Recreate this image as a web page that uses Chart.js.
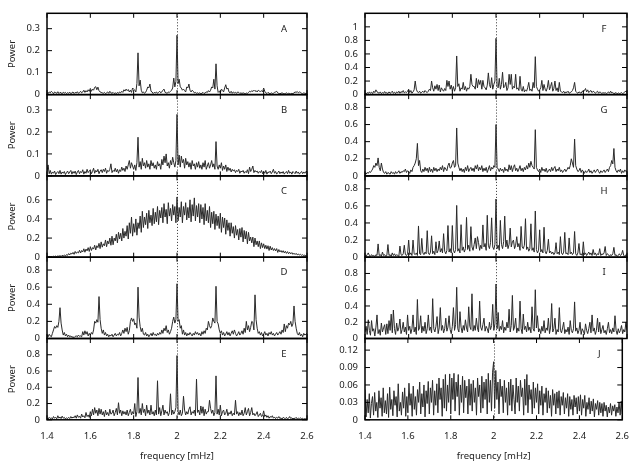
<!DOCTYPE html>
<html>
<head>
<meta charset="utf-8">
<script src="https://cdn.jsdelivr.net/npm/chart.js@4.4.1/dist/chart.umd.min.js"></script>
<style>
html,body{margin:0;padding:0;background:#fff;}
#wrap{position:relative;width:640px;height:468px;overflow:hidden;}
#wrap canvas{position:absolute;left:0;top:0;width:640px;height:468px;}
</style>
</head>
<body>
<div id="wrap"></div>
<script>
// ---------------- data ----------------
const xTickValues = [1.4, 1.6, 1.8, 2.0, 2.2, 2.4, 2.6];
const xTickLabels = ['1.4', '1.6', '1.8', '2', '2.2', '2.4', '2.6'];
const markFreq = 2.0;
const panelLetters = ['A','B','C','D','E','F','G','H','I','J'];
const yMax = [0.37, 0.37, 0.85, 0.95, 1.0, 1.2, 0.95, 0.95, 1.0, 0.14];
const yTicksA = [0, 0.1, 0.2, 0.3];
const yTicksB = [0, 0.1, 0.2, 0.3];
const yTicksC = [0, 0.2, 0.4, 0.6];
const yTicksD = [0, 0.2, 0.4, 0.6, 0.8];
const yTicksE = [0, 0.2, 0.4, 0.6, 0.8];
const yTicksF = [0, 0.2, 0.4, 0.6, 0.8, 1];
const yTicksG = [0, 0.2, 0.4, 0.6, 0.8];
const yTicksH = [0, 0.2, 0.4, 0.6, 0.8];
const yTicksI = [0, 0.2, 0.4, 0.6, 0.8];
const yTicksJ = [0, 0.03, 0.06, 0.09, 0.12];

// power spectra, sampled every 0.005 mHz from 1.4 to 2.6 (241 values)
const powerA = [
0.01,0.005,0.012,0.008,0.015,0.01,0.004,0.012,0.009,0.006,0.013,0.005,0.01,0.008,0.004,0.011,0.007,0.01,0.005,0.009,
0.006,0.011,0.004,0.008,0.012,0.005,0.01,0.007,0.013,0.006,0.009,0.015,0.008,0.012,0.02,0.01,0.018,0.012,0.022,0.015,
0.028,0.015,0.025,0.02,0.033,0.036,0.022,0.034,0.018,0.012,0.01,0.008,0.006,0.01,0.005,0.008,0.012,0.006,0.015,0.008,
0.006,0.01,0.005,0.008,0.004,0.01,0.006,0.012,0.008,0.015,0.01,0.022,0.016,0.025,0.018,0.023,0.012,0.02,0.01,0.03,
0.025,0.02,0.012,0.05,0.19,0.04,0.066,0.02,0.008,0.012,0.006,0.01,0.02,0.035,0.03,0.048,0.015,0.012,0.005,0.01,
0.008,0.012,0.006,0.01,0.015,0.008,0.012,0.02,0.025,0.01,0.008,0.006,0.012,0.01,0.015,0.02,0.03,0.075,0.035,0.06,
0.27,0.05,0.07,0.035,0.03,0.02,0.025,0.018,0.012,0.035,0.03,0.048,0.02,0.012,0.02,0.015,0.008,0.01,0.006,0.008,
0.005,0.008,0.004,0.006,0.01,0.005,0.008,0.012,0.01,0.018,0.012,0.02,0.035,0.03,0.07,0.025,0.14,0.04,0.01,0.015,
0.008,0.025,0.02,0.012,0.03,0.045,0.025,0.03,0.012,0.008,0.015,0.006,0.012,0.008,0.01,0.006,0.012,0.01,0.005,0.008,
0.005,0.008,0.006,0.004,0.007,0.005,0.01,0.015,0.012,0.018,0.014,0.02,0.015,0.018,0.012,0.02,0.016,0.014,0.018,0.012,
0.03,0.015,0.008,0.005,0.01,0.006,0.004,0.008,0.005,0.006,0.01,0.012,0.015,0.008,0.005,0.004,0.006,0.008,0.005,0.004,
0.005,0.008,0.004,0.006,0.005,0.003,0.006,0.004,0.008,0.012,0.01,0.014,0.008,0.012,0.01,0.006,0.004,0.008,0.006,0.005,
0.004];

const powerB = [
0.02,0.05,0.01,0.025,0.008,0.018,0.012,0.022,0.006,0.015,0.02,0.01,0.025,0.008,0.018,0.012,0.02,0.006,0.015,0.022,
0.01,0.018,0.025,0.008,0.02,0.012,0.022,0.006,0.018,0.025,0.01,0.02,0.015,0.028,0.008,0.02,0.012,0.03,0.015,0.022,
0.028,0.01,0.02,0.035,0.012,0.025,0.018,0.03,0.01,0.022,0.028,0.015,0.03,0.02,0.035,0.012,0.025,0.02,0.03,0.055,
0.015,0.025,0.02,0.035,0.018,0.03,0.012,0.028,0.02,0.04,0.025,0.035,0.02,0.045,0.03,0.05,0.07,0.035,0.06,0.045,
0.03,0.05,0.025,0.06,0.176,0.04,0.065,0.03,0.08,0.045,0.06,0.035,0.07,0.04,0.055,0.03,0.07,0.045,0.06,0.035,
0.05,0.03,0.065,0.045,0.055,0.03,0.075,0.05,0.09,0.06,0.1,0.045,0.06,0.035,0.07,0.05,0.085,0.06,0.04,0.07,
0.28,0.05,0.095,0.04,0.09,0.06,0.075,0.035,0.08,0.05,0.065,0.04,0.06,0.03,0.07,0.045,0.055,0.03,0.06,0.04,
0.065,0.035,0.05,0.03,0.06,0.04,0.07,0.03,0.045,0.06,0.035,0.05,0.07,0.04,0.055,0.03,0.156,0.045,0.03,0.05,
0.035,0.06,0.025,0.045,0.03,0.05,0.02,0.04,0.025,0.035,0.018,0.03,0.022,0.028,0.015,0.025,0.02,0.03,0.012,0.022,
0.018,0.025,0.012,0.02,0.015,0.028,0.01,0.04,0.02,0.03,0.045,0.015,0.025,0.018,0.022,0.012,0.02,0.015,0.025,0.01,
0.02,0.012,0.025,0.008,0.018,0.015,0.022,0.01,0.018,0.03,0.012,0.02,0.008,0.015,0.022,0.01,0.018,0.012,0.02,0.008,
0.015,0.02,0.01,0.025,0.012,0.018,0.008,0.02,0.015,0.01,0.022,0.012,0.018,0.008,0.015,0.02,0.01,0.018,0.012,0.02,
0.02];

const powerC = [
0.006,0.002,0.008,0.004,0.007,0.003,0.01,0.006,0.012,0.005,0.014,0.009,0.016,0.008,0.02,0.013,0.022,0.012,0.027,0.02,
0.038,0.024,0.042,0.033,0.05,0.03,0.06,0.04,0.055,0.045,0.072,0.044,0.07,0.055,0.088,0.052,0.085,0.066,0.1,0.06,
0.11,0.07,0.1,0.085,0.125,0.076,0.12,0.1,0.145,0.09,0.16,0.105,0.14,0.12,0.18,0.11,0.17,0.14,0.2,0.125,
0.22,0.13,0.2,0.17,0.24,0.15,0.26,0.19,0.25,0.17,0.3,0.2,0.27,0.22,0.33,0.19,0.36,0.25,0.42,0.22,
0.35,0.26,0.4,0.23,0.36,0.3,0.43,0.26,0.48,0.31,0.42,0.34,0.46,0.3,0.49,0.36,0.44,0.33,0.51,0.35,
0.47,0.37,0.53,0.34,0.49,0.41,0.52,0.36,0.56,0.42,0.5,0.35,0.57,0.43,0.51,0.38,0.55,0.44,0.53,0.36,
0.63,0.38,0.52,0.42,0.58,0.36,0.53,0.44,0.57,0.39,0.52,0.41,0.6,0.37,0.55,0.43,0.62,0.38,0.54,0.42,
0.56,0.36,0.55,0.4,0.52,0.34,0.56,0.38,0.49,0.36,0.53,0.31,0.47,0.35,0.48,0.29,0.45,0.33,0.43,0.3,
0.46,0.26,0.42,0.31,0.41,0.24,0.39,0.28,0.36,0.22,0.36,0.25,0.32,0.2,0.33,0.23,0.29,0.18,0.3,0.21,
0.31,0.16,0.28,0.19,0.27,0.14,0.26,0.17,0.21,0.15,0.21,0.11,0.2,0.13,0.17,0.11,0.17,0.09,0.15,0.1,
0.14,0.09,0.125,0.085,0.12,0.07,0.115,0.075,0.1,0.07,0.09,0.065,0.09,0.05,0.08,0.055,0.07,0.05,0.068,0.045,
0.062,0.04,0.058,0.036,0.052,0.035,0.048,0.03,0.042,0.028,0.04,0.024,0.034,0.022,0.03,0.02,0.026,0.017,0.022,0.014,
0.01];

const powerD = [
0.04,0.02,0.05,0.03,0.02,0.06,0.1,0.14,0.12,0.15,0.13,0.2,0.36,0.18,0.1,0.04,0.07,0.03,0.05,0.02,
0.04,0.02,0.03,0.015,0.02,0.01,0.025,0.03,0.02,0.04,0.025,0.03,0.02,0.08,0.04,0.09,0.05,0.08,0.03,0.06,
0.04,0.07,0.05,0.1,0.2,0.18,0.22,0.19,0.49,0.22,0.12,0.06,0.1,0.04,0.07,0.03,0.05,0.02,0.04,0.03,
0.05,0.02,0.04,0.06,0.03,0.05,0.04,0.07,0.03,0.06,0.1,0.06,0.12,0.08,0.13,0.05,0.09,0.2,0.24,0.2,
0.23,0.16,0.18,0.12,0.6,0.25,0.14,0.08,0.12,0.05,0.04,0.07,0.03,0.05,0.02,0.04,0.06,0.03,0.07,0.04,
0.05,0.03,0.06,0.04,0.07,0.05,0.1,0.06,0.12,0.09,0.15,0.07,0.1,0.05,0.08,0.12,0.2,0.25,0.18,0.22,
0.64,0.2,0.22,0.12,0.15,0.05,0.1,0.04,0.07,0.03,0.06,0.04,0.07,0.05,0.03,0.06,0.04,0.08,0.05,0.07,
0.04,0.06,0.03,0.08,0.05,0.09,0.06,0.12,0.1,0.2,0.15,0.12,0.15,0.24,0.2,0.18,0.61,0.2,0.17,0.1,
0.06,0.09,0.04,0.07,0.03,0.05,0.08,0.04,0.07,0.03,0.06,0.09,0.05,0.1,0.06,0.03,0.05,0.08,0.04,0.06,
0.09,0.05,0.12,0.07,0.2,0.1,0.15,0.08,0.13,0.2,0.19,0.1,0.51,0.22,0.12,0.06,0.08,0.04,0.07,0.03,
0.05,0.08,0.04,0.06,0.03,0.07,0.05,0.08,0.04,0.06,0.03,0.05,0.07,0.04,0.06,0.08,0.05,0.1,0.07,0.17,
0.08,0.15,0.12,0.18,0.16,0.2,0.14,0.17,0.38,0.2,0.12,0.06,0.04,0.07,0.03,0.05,0.02,0.06,0.04,0.05,
0.06];

const powerE = [
0.02,0.01,0.03,0.015,0.025,0.01,0.04,0.02,0.03,0.012,0.05,0.02,0.035,0.015,0.045,0.02,0.03,0.01,0.025,0.015,
0.03,0.015,0.04,0.02,0.035,0.025,0.05,0.02,0.06,0.03,0.045,0.02,0.07,0.035,0.05,0.025,0.09,0.04,0.06,0.03,
0.1,0.05,0.13,0.06,0.15,0.08,0.12,0.05,0.14,0.07,0.13,0.06,0.1,0.04,0.12,0.06,0.09,0.05,0.13,0.07,
0.08,0.12,0.05,0.09,0.14,0.06,0.21,0.08,0.12,0.05,0.11,0.07,0.1,0.06,0.12,0.05,0.09,0.13,0.06,0.1,
0.07,0.2,0.04,0.1,0.52,0.08,0.14,0.06,0.2,0.09,0.13,0.05,0.18,0.08,0.12,0.06,0.18,0.07,0.1,0.05,
0.12,0.06,0.48,0.07,0.15,0.05,0.11,0.18,0.06,0.12,0.08,0.1,0.05,0.09,0.32,0.06,0.12,0.07,0.1,0.15,
0.79,0.1,0.06,0.12,0.05,0.08,0.29,0.12,0.06,0.1,0.07,0.13,0.16,0.06,0.1,0.08,0.12,0.05,0.5,0.09,
0.12,0.06,0.17,0.08,0.16,0.05,0.13,0.07,0.1,0.1,0.24,0.14,0.08,0.12,0.05,0.09,0.54,0.07,0.13,0.06,
0.18,0.05,0.1,0.12,0.06,0.08,0.13,0.05,0.09,0.07,0.11,0.05,0.08,0.06,0.24,0.07,0.1,0.05,0.09,0.06,
0.12,0.05,0.08,0.15,0.06,0.1,0.14,0.05,0.09,0.15,0.06,0.08,0.05,0.07,0.1,0.04,0.06,0.08,0.04,0.05,
0.11,0.04,0.06,0.03,0.05,0.02,0.04,0.03,0.05,0.02,0.035,0.015,0.03,0.02,0.04,0.015,0.025,0.01,0.03,0.02,
0.015,0.03,0.01,0.02,0.04,0.015,0.025,0.01,0.02,0.015,0.03,0.01,0.02,0.012,0.025,0.01,0.018,0.008,0.015,0.01,
0.01];

const powerF = [
0.02,0.01,0.03,0.015,0.04,0.02,0.035,0.015,0.05,0.03,0.07,0.04,0.03,0.02,0.04,0.015,0.03,0.02,0.045,0.02,
0.03,0.015,0.04,0.02,0.03,0.05,0.02,0.035,0.015,0.04,0.025,0.05,0.02,0.045,0.03,0.06,0.025,0.04,0.03,0.05,
0.08,0.03,0.06,0.02,0.04,0.07,0.2,0.08,0.04,0.03,0.05,0.02,0.035,0.05,0.03,0.06,0.04,0.03,0.05,0.08,
0.06,0.2,0.1,0.05,0.13,0.08,0.15,0.06,0.14,0.04,0.1,0.07,0.05,0.09,0.06,0.21,0.12,0.2,0.08,0.14,
0.06,0.12,0.05,0.1,0.57,0.12,0.16,0.05,0.1,0.08,0.18,0.07,0.12,0.05,0.1,0.08,0.12,0.3,0.15,0.12,
0.12,0.08,0.24,0.1,0.22,0.15,0.21,0.08,0.21,0.12,0.1,0.07,0.14,0.32,0.15,0.1,0.25,0.08,0.15,0.2,
0.83,0.12,0.1,0.24,0.08,0.15,0.33,0.1,0.12,0.18,0.06,0.1,0.3,0.15,0.3,0.08,0.12,0.1,0.3,0.08,
0.1,0.06,0.27,0.08,0.05,0.12,0.04,0.07,0.05,0.1,0.18,0.06,0.08,0.05,0.18,0.1,0.56,0.12,0.08,0.05,
0.07,0.1,0.21,0.06,0.15,0.08,0.05,0.1,0.21,0.07,0.12,0.18,0.05,0.09,0.2,0.06,0.1,0.04,0.18,0.05,
0.04,0.03,0.05,0.02,0.04,0.03,0.05,0.02,0.03,0.04,0.06,0.1,0.18,0.05,0.03,0.02,0.04,0.03,0.02,0.05,
0.04,0.06,0.09,0.04,0.07,0.03,0.05,0.06,0.03,0.05,0.04,0.02,0.035,0.05,0.02,0.04,0.03,0.015,0.03,0.02,
0.03,0.015,0.025,0.04,0.02,0.05,0.025,0.03,0.015,0.02,0.03,0.01,0.025,0.015,0.02,0.03,0.015,0.025,0.04,0.05,
0.03];

const powerG = [
0.03,0.02,0.04,0.03,0.05,0.04,0.06,0.08,0.12,0.1,0.15,0.12,0.21,0.1,0.06,0.15,0.08,0.04,0.03,0.05,
0.02,0.04,0.03,0.02,0.05,0.03,0.04,0.02,0.05,0.03,0.04,0.06,0.03,0.05,0.04,0.06,0.05,0.08,0.04,0.06,
0.05,0.03,0.07,0.05,0.1,0.12,0.15,0.2,0.38,0.12,0.18,0.06,0.04,0.08,0.05,0.1,0.06,0.09,0.04,0.1,
0.05,0.08,0.04,0.1,0.06,0.09,0.05,0.08,0.06,0.1,0.07,0.12,0.05,0.1,0.08,0.06,0.12,0.15,0.09,0.1,
0.15,0.18,0.1,0.12,0.56,0.15,0.1,0.06,0.09,0.05,0.08,0.04,0.1,0.06,0.12,0.05,0.08,0.1,0.06,0.09,
0.05,0.12,0.08,0.13,0.06,0.1,0.07,0.12,0.05,0.09,0.06,0.1,0.04,0.08,0.12,0.06,0.1,0.08,0.12,0.1,
0.6,0.1,0.08,0.05,0.09,0.06,0.08,0.04,0.1,0.06,0.08,0.05,0.13,0.07,0.12,0.05,0.1,0.13,0.06,0.09,
0.05,0.08,0.12,0.06,0.09,0.05,0.1,0.07,0.12,0.08,0.15,0.1,0.17,0.12,0.1,0.08,0.54,0.1,0.07,0.05,
0.08,0.04,0.1,0.06,0.08,0.05,0.09,0.04,0.06,0.08,0.05,0.1,0.06,0.09,0.11,0.05,0.08,0.06,0.1,0.05,
0.07,0.04,0.06,0.08,0.05,0.07,0.1,0.08,0.12,0.2,0.15,0.1,0.43,0.12,0.08,0.05,0.06,0.09,0.04,0.07,
0.05,0.03,0.06,0.04,0.05,0.08,0.04,0.06,0.03,0.05,0.07,0.04,0.06,0.08,0.05,0.03,0.06,0.04,0.05,0.07,
0.04,0.06,0.08,0.05,0.1,0.12,0.18,0.14,0.32,0.1,0.06,0.04,0.07,0.05,0.08,0.03,0.06,0.04,0.07,0.05,
0.06];

const powerH = [
0.02,0.01,0.03,0.05,0.02,0.01,0.03,0.015,0.02,0.01,0.03,0.02,0.155,0.02,0.03,0.01,0.06,0.02,0.03,0.01,
0.02,0.148,0.02,0.03,0.01,0.05,0.02,0.04,0.015,0.03,0.02,0.01,0.13,0.03,0.02,0.04,0.14,0.03,0.02,0.04,
0.2,0.03,0.05,0.02,0.2,0.04,0.03,0.05,0.02,0.365,0.04,0.03,0.22,0.05,0.03,0.06,0.04,0.31,0.05,0.03,
0.06,0.25,0.04,0.07,0.03,0.18,0.05,0.08,0.19,0.06,0.1,0.05,0.275,0.07,0.04,0.08,0.37,0.06,0.1,0.05,
0.37,0.08,0.05,0.09,0.605,0.07,0.1,0.05,0.38,0.08,0.12,0.06,0.1,0.465,0.09,0.14,0.07,0.357,0.12,0.08,
0.15,0.225,0.1,0.24,0.17,0.08,0.14,0.1,0.377,0.12,0.16,0.08,0.49,0.14,0.1,0.17,0.46,0.12,0.09,0.15,
0.68,0.1,0.14,0.08,0.43,0.15,0.1,0.18,0.48,0.12,0.2,0.1,0.15,0.34,0.12,0.18,0.2,0.1,0.14,0.24,
0.12,0.16,0.08,0.36,0.12,0.1,0.14,0.45,0.09,0.12,0.07,0.1,0.39,0.08,0.11,0.06,0.54,0.09,0.05,0.08,
0.32,0.06,0.09,0.05,0.35,0.07,0.04,0.08,0.21,0.05,0.07,0.04,0.06,0.03,0.05,0.17,0.04,0.06,0.03,0.24,
0.05,0.03,0.06,0.29,0.04,0.05,0.03,0.225,0.04,0.06,0.03,0.05,0.3,0.04,0.02,0.05,0.16,0.03,0.04,0.02,
0.18,0.03,0.05,0.02,0.04,0.06,0.03,0.05,0.02,0.09,0.03,0.05,0.02,0.04,0.03,0.1,0.02,0.04,0.03,0.05,
0.125,0.02,0.04,0.03,0.01,0.03,0.02,0.04,0.115,0.02,0.03,0.01,0.02,0.04,0.02,0.03,0.08,0.02,0.01,0.03,
0.02];

const powerI = [
0.08,0.15,0.05,0.23,0.1,0.04,0.22,0.09,0.12,0.03,0.14,0.29,0.06,0.11,0.04,0.19,0.08,0.13,0.17,0.05,
0.18,0.06,0.22,0.1,0.3,0.07,0.35,0.12,0.05,0.19,0.09,0.13,0.24,0.06,0.11,0.2,0.08,0.14,0.05,0.29,
0.1,0.15,0.06,0.12,0.29,0.08,0.14,0.05,0.48,0.1,0.13,0.28,0.07,0.15,0.09,0.2,0.06,0.12,0.29,0.1,
0.14,0.07,0.49,0.12,0.08,0.15,0.27,0.06,0.13,0.38,0.1,0.16,0.07,0.12,0.25,0.09,0.14,0.28,0.11,0.06,
0.15,0.38,0.1,0.17,0.63,0.12,0.08,0.33,0.14,0.07,0.16,0.1,0.23,0.13,0.08,0.39,0.15,0.11,0.55,0.09,
0.16,0.1,0.25,0.13,0.08,0.46,0.14,0.1,0.17,0.25,0.09,0.15,0.12,0.07,0.2,0.11,0.16,0.42,0.1,0.18,
0.67,0.12,0.32,0.09,0.15,0.11,0.22,0.07,0.14,0.1,0.2,0.13,0.36,0.08,0.16,0.53,0.1,0.14,0.25,0.07,
0.13,0.09,0.46,0.12,0.06,0.3,0.11,0.15,0.08,0.2,0.1,0.14,0.07,0.39,0.12,0.09,0.6,0.13,0.28,0.08,
0.12,0.06,0.15,0.09,0.22,0.07,0.13,0.1,0.25,0.06,0.14,0.43,0.08,0.12,0.25,0.05,0.11,0.08,0.38,0.1,
0.07,0.13,0.2,0.06,0.11,0.08,0.14,0.05,0.22,0.1,0.07,0.12,0.45,0.09,0.13,0.06,0.1,0.2,0.05,0.12,
0.09,0.05,0.18,0.1,0.06,0.12,0.2,0.07,0.29,0.09,0.13,0.05,0.1,0.25,0.08,0.2,0.06,0.11,0.16,0.07,
0.1,0.05,0.12,0.2,0.07,0.11,0.06,0.13,0.08,0.28,0.1,0.05,0.12,0.07,0.1,0.16,0.06,0.11,0.08,0.2,
0.1];

const powerJ = [
0.052,0.005,0.035,0.012,0.045,0.003,0.028,0.04,0.008,0.047,0.015,0.03,0.004,0.05,0.02,0.038,0.006,0.055,0.012,0.033,
0.01,0.045,0.004,0.056,0.018,0.035,0.007,0.05,0.025,0.04,0.005,0.062,0.015,0.03,0.008,0.048,0.02,0.055,0.006,0.04,
0.012,0.063,0.025,0.045,0.006,0.058,0.018,0.04,0.008,0.052,0.03,0.065,0.01,0.045,0.022,0.06,0.005,0.05,0.028,0.066,
0.01,0.055,0.03,0.068,0.008,0.05,0.025,0.062,0.012,0.072,0.035,0.055,0.006,0.07,0.02,0.078,0.015,0.06,0.03,0.079,
0.01,0.072,0.035,0.08,0.015,0.065,0.04,0.078,0.008,0.06,0.03,0.075,0.012,0.068,0.038,0.058,0.01,0.07,0.025,0.062,
0.015,0.068,0.03,0.055,0.008,0.072,0.04,0.06,0.012,0.075,0.02,0.065,0.035,0.07,0.01,0.08,0.03,0.068,0.015,0.082,
0.1,0.02,0.085,0.035,0.065,0.01,0.07,0.04,0.058,0.012,0.068,0.03,0.055,0.008,0.065,0.025,0.07,0.015,0.06,0.035,
0.01,0.072,0.03,0.058,0.015,0.068,0.04,0.055,0.008,0.07,0.025,0.078,0.012,0.06,0.035,0.052,0.01,0.065,0.02,0.055,
0.03,0.062,0.01,0.05,0.025,0.058,0.008,0.045,0.03,0.055,0.012,0.05,0.02,0.042,0.006,0.052,0.025,0.045,0.01,0.048,
0.02,0.05,0.008,0.04,0.025,0.047,0.01,0.038,0.02,0.045,0.006,0.04,0.018,0.035,0.008,0.042,0.022,0.038,0.01,0.04,
0.015,0.043,0.008,0.035,0.02,0.042,0.006,0.03,0.018,0.038,0.01,0.032,0.015,0.036,0.005,0.028,0.018,0.033,0.008,0.03,
0.012,0.028,0.006,0.03,0.015,0.025,0.005,0.022,0.012,0.028,0.008,0.024,0.015,0.026,0.006,0.022,0.012,0.03,0.008,0.032,
0.01];

const freq = Array.from({length: 241}, (_, i) => Math.round((1.4 + i * 0.005) * 1000) / 1000);

const series = [powerA, powerB, powerC, powerD, powerE, powerF, powerG, powerH, powerI, powerJ];
const yTickSets = [yTicksA, yTicksB, yTicksC, yTicksD, yTicksE, yTicksF, yTicksG, yTicksH, yTicksI, yTicksJ];

// ---------------- layout ----------------
const W = 640, H = 468;
const rowEdges = [13.3, 94.6, 175.9, 257.2, 338.5, 419.8];
const cols = [
  {padLeft: 0, yWidth: 47, padRight: 333},
  {padLeft: 320, yWidth: 45, padRight: 13}
];
const FONT = '"Noto Sans", "DejaVu Sans", sans-serif';

Chart.defaults.font.family = FONT;
Chart.defaults.font.size = 9.5;
Chart.defaults.color = '#222';

const framePlugin = {
  id: 'frame',
  beforeDatasetsDraw(chart) {
    const {ctx, chartArea: a, scales: {x}} = chart;
    const px = Math.round(x.getPixelForValue(markFreq)) + 0.5;
    ctx.save();
    ctx.strokeStyle = '#333';
    ctx.lineWidth = 1;
    ctx.setLineDash([1, 2]);
    ctx.beginPath();
    ctx.moveTo(px, a.top);
    ctx.lineTo(px, a.bottom);
    ctx.stroke();
    ctx.restore();
  },
  afterDatasetsDraw(chart, args, opts) {
    const {ctx, chartArea: a, scales: {x, y}} = chart;
    ctx.save();
    ctx.strokeStyle = '#000';
    ctx.lineWidth = 1;
    ctx.beginPath();
    xTickValues.forEach(v => {
      const p = x.getPixelForValue(v);
      ctx.moveTo(p, a.top); ctx.lineTo(p, a.top + 4.5);
      ctx.moveTo(p, a.bottom); ctx.lineTo(p, a.bottom - 4.5);
    });
    y.ticks.forEach(t => {
      const p = y.getPixelForValue(t.value);
      ctx.moveTo(a.left, p); ctx.lineTo(a.left + 5, p);
      ctx.moveTo(a.right, p); ctx.lineTo(a.right - 5, p);
    });
    ctx.stroke();
    ctx.lineWidth = 1.5;
    ctx.strokeRect(a.left, a.top, a.right - a.left, a.bottom - a.top);
    ctx.fillStyle = '#222';
    ctx.font = '9.5px ' + FONT;
    ctx.textAlign = 'center';
    ctx.textBaseline = 'middle';
    ctx.fillText(opts.letter, a.right - 23, a.top + 15.5);
    ctx.restore();
  }
};

const wrap = document.getElementById('wrap');

series.forEach((vals, idx) => {
  const col = idx < 5 ? 0 : 1;
  const row = idx % 5;
  const c = cols[col];
  const isBottom = row === 4;
  const top = rowEdges[row];
  const bottom = rowEdges[row + 1];
  const canvas = document.createElement('canvas');
  canvas.width = W; canvas.height = H;
  wrap.appendChild(canvas);
  const ticks = yTickSets[idx];

  new Chart(canvas, {
    type: 'line',
    data: {
      datasets: [{
        data: freq.map((f, i) => ({x: f, y: vals[i]})),
        borderColor: '#2a2a2a',
        borderWidth: 1,
        pointRadius: 0,
        tension: 0,
        fill: false
      }]
    },
    options: {
      responsive: false,
      animation: false,
      events: [],
      layout: {
        padding: {
          left: c.padLeft,
          right: c.padRight,
          top: top,
          bottom: isBottom ? 0 : H - bottom
        }
      },
      plugins: {
        legend: {display: false},
        tooltip: {enabled: false},
        frame: {letter: panelLetters[idx]}
      },
      scales: {
        x: {
          type: 'linear',
          min: 1.4,
          max: 2.6,
          display: isBottom,
          grid: {display: false, drawTicks: false},
          border: {display: false},
          afterBuildTicks: s => { s.ticks = xTickValues.map(v => ({value: v})); },
          afterFit: s => { s.height = isBottom ? H - bottom : 0; },
          ticks: {
            autoSkip: false,
            maxRotation: 0,
            padding: 11,
            color: '#222',
            callback: (v) => xTickLabels[xTickValues.indexOf(v)] ?? String(v)
          },
          title: {
            display: true,
            text: 'frequency [mHz]',
            color: '#222',
            padding: {top: 0, bottom: 6}
          }
        },
        y: {
          type: 'linear',
          min: 0,
          max: yMax[idx],
          grid: {display: false, drawTicks: false},
          border: {display: false},
          afterBuildTicks: s => { s.ticks = ticks.map(v => ({value: v})); },
          afterFit: s => { s.width = c.yWidth; },
          ticks: {
            padding: 7,
            color: '#222',
            callback: (v) => String(v)
          },
          title: {
            display: col === 0,
            text: 'Power',
            color: '#222',
            padding: {top: 6.3, bottom: 0}
          }
        }
      }
    },
    plugins: [framePlugin]
  });
});
</script>
</body>
</html>
